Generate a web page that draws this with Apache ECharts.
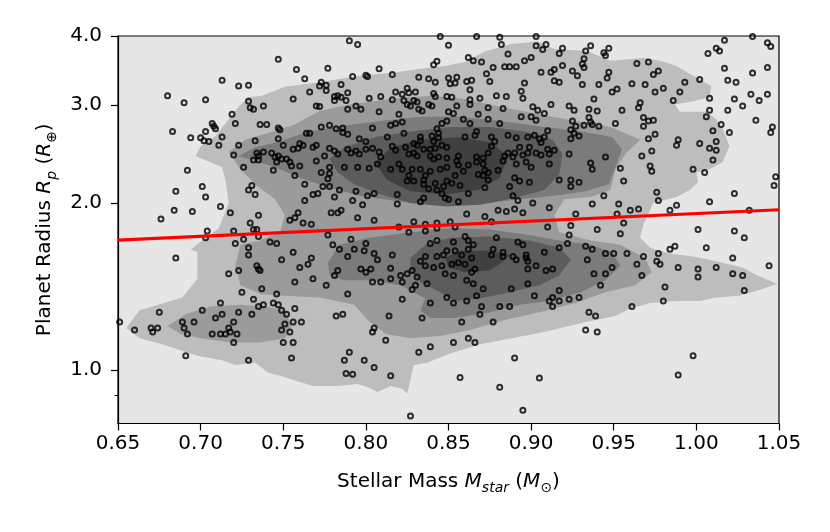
<!DOCTYPE html>
<html>
<head>
<meta charset="utf-8">
<script src="https://cdn.jsdelivr.net/npm/echarts@6.0.0/dist/echarts.min.js"></script>
<style>
  html, body { margin: 0; padding: 0; background: #fff; }
  #container { width: 830px; height: 532px; }
</style>
</head>
<body>
<div id="container"></div>
<script>
// planets: [stellar mass, planet radius]
var planets = [
[0.747,3.63],[0.713,3.33],[0.723,3.25],[0.729,3.26],[0.680,3.12],[0.690,3.03],[0.703,3.07],[0.729,3.05],[0.730,2.97],[0.732,2.95],
[0.738,2.99],[0.719,2.89],[0.721,2.78],[0.736,2.77],[0.740,2.77],[0.707,2.78],[0.708,2.75],[0.709,2.72],[0.747,2.73],[0.748,2.71],
[0.683,2.69],[0.703,2.69],[0.694,2.62],[0.700,2.62],[0.702,2.59],[0.705,2.58],[0.713,2.63],[0.711,2.54],[0.723,2.54],[0.733,2.59],
[0.747,2.61],[0.750,2.54],[0.720,2.44],[0.734,2.46],[0.735,2.43],[0.738,2.47],[0.732,2.39],[0.735,2.39],[0.743,2.46],[0.745,2.42],
[0.747,2.43],[0.746,2.37],[0.749,2.40],[0.726,2.32],[0.744,2.29],[0.692,2.29],[0.731,2.15],[0.729,2.11],[0.733,2.07],[0.701,2.14],
[0.685,2.10],[0.703,2.05],[0.712,1.97],[0.718,1.92],[0.735,1.90],[0.684,1.94],[0.695,1.93],[0.676,1.87],[0.730,1.84],[0.732,1.79],
[0.734,1.79],[0.704,1.78],[0.703,1.73],[0.720,1.78],[0.721,1.69],[0.726,1.72],[0.735,1.74],[0.729,1.66],[0.729,1.61],[0.742,1.70],
[0.746,1.69],[0.749,1.58],[0.685,1.59],[0.717,1.49],[0.723,1.51],[0.734,1.54],[0.735,1.52],[0.736,1.51],[0.737,1.40],[0.725,1.38],
[0.732,1.34],[0.746,1.37],[0.735,1.30],[0.738,1.31],[0.744,1.32],[0.747,1.31],[0.749,1.28],[0.712,1.32],[0.701,1.28],[0.675,1.27],
[0.713,1.26],[0.709,1.24],[0.723,1.27],[0.731,1.26],[0.689,1.22],[0.690,1.19],[0.696,1.22],[0.720,1.22],[0.651,1.22],[0.660,1.18],
[0.670,1.19],[0.671,1.17],[0.674,1.19],[0.692,1.16],[0.707,1.16],[0.712,1.16],[0.715,1.16],[0.717,1.19],[0.718,1.17],[0.722,1.16],
[0.749,1.18],[0.751,1.21],[0.750,1.12],[0.720,1.12],[0.691,1.06],[0.729,1.04],[0.790,3.92],[0.795,3.86],[0.845,3.99],[0.850,3.85],
[0.758,3.48],[0.777,3.50],[0.808,3.49],[0.843,3.60],[0.841,3.55],[0.763,3.35],[0.792,3.38],[0.800,3.40],[0.801,3.38],[0.816,3.41],
[0.832,3.37],[0.838,3.35],[0.842,3.30],[0.850,3.36],[0.773,3.30],[0.772,3.25],[0.776,3.26],[0.776,3.19],[0.785,3.27],[0.766,3.17],
[0.789,3.16],[0.818,3.17],[0.825,3.22],[0.826,3.16],[0.830,3.17],[0.841,3.15],[0.842,3.11],[0.849,3.11],[0.756,3.08],[0.781,3.11],
[0.783,3.12],[0.785,3.10],[0.781,3.06],[0.788,3.06],[0.789,2.95],[0.802,3.09],[0.809,3.11],[0.816,3.07],[0.822,3.14],[0.823,3.06],
[0.825,3.01],[0.829,3.06],[0.831,3.04],[0.827,2.99],[0.832,2.95],[0.834,2.93],[0.838,3.01],[0.840,2.99],[0.770,2.99],[0.772,2.985],
[0.794,2.99],[0.797,2.95],[0.808,2.92],[0.820,2.89],[0.822,2.80],[0.815,2.76],[0.818,2.78],[0.846,2.78],[0.849,2.81],[0.843,2.72],
[0.844,2.67],[0.844,2.62],[0.773,2.74],[0.778,2.76],[0.782,2.72],[0.786,2.73],[0.786,2.68],[0.789,2.66],[0.804,2.73],[0.764,2.67],
[0.766,2.67],[0.813,2.63],[0.823,2.67],[0.833,2.63],[0.833,2.59],[0.840,2.64],[0.841,2.58],[0.796,2.61],[0.800,2.58],[0.846,2.54],
[0.760,2.56],[0.762,2.54],[0.759,2.51],[0.756,2.50],[0.768,2.52],[0.770,2.54],[0.778,2.51],[0.781,2.48],[0.789,2.50],[0.791,2.46],
[0.794,2.48],[0.796,2.45],[0.800,2.50],[0.804,2.51],[0.808,2.47],[0.809,2.42],[0.816,2.53],[0.818,2.49],[0.824,2.52],[0.829,2.56],
[0.831,2.54],[0.835,2.50],[0.839,2.50],[0.842,2.51],[0.849,2.52],[0.826,2.45],[0.829,2.46],[0.831,2.43],[0.839,2.43],[0.841,2.40],
[0.844,2.42],[0.849,2.41],[0.752,2.40],[0.754,2.37],[0.755,2.33],[0.770,2.38],[0.775,2.43],[0.783,2.45],[0.787,2.32],[0.795,2.32],
[0.807,2.35],[0.802,2.31],[0.815,2.30],[0.820,2.35],[0.822,2.30],[0.828,2.30],[0.826,2.24],[0.833,2.30],[0.836,2.24],[0.839,2.28],
[0.845,2.30],[0.849,2.32],[0.760,2.33],[0.773,2.27],[0.778,2.32],[0.778,2.26],[0.777,2.21],[0.757,2.24],[0.763,2.16],[0.774,2.14],
[0.778,2.14],[0.784,2.11],[0.768,2.07],[0.771,2.08],[0.794,2.10],[0.805,2.08],[0.819,2.07],[0.819,1.99],[0.825,2.19],[0.829,2.19],
[0.835,2.20],[0.835,2.16],[0.838,2.12],[0.842,2.17],[0.843,2.11],[0.847,2.14],[0.846,2.08],[0.849,2.19],[0.848,2.04],[0.833,2.01],
[0.835,2.04],[0.781,2.05],[0.763,2.02],[0.792,2.02],[0.798,1.985],[0.801,2.06],[0.779,1.92],[0.783,1.92],[0.785,1.94],[0.795,1.88],
[0.805,1.86],[0.759,1.92],[0.757,1.88],[0.754,1.86],[0.762,1.84],[0.767,1.83],[0.829,1.85],[0.836,1.83],[0.843,1.84],[0.843,1.80],
[0.820,1.81],[0.826,1.77],[0.836,1.78],[0.777,1.75],[0.791,1.72],[0.780,1.68],[0.784,1.65],[0.800,1.69],[0.793,1.65],[0.799,1.64],
[0.756,1.63],[0.805,1.62],[0.807,1.58],[0.816,1.61],[0.789,1.60],[0.767,1.59],[0.839,1.69],[0.843,1.71],[0.836,1.60],[0.843,1.60],
[0.847,1.61],[0.849,1.64],[0.833,1.57],[0.836,1.54],[0.841,1.53],[0.846,1.54],[0.848,1.49],[0.765,1.55],[0.760,1.53],[0.783,1.51],
[0.781,1.48],[0.797,1.52],[0.800,1.50],[0.803,1.52],[0.815,1.525],[0.768,1.46],[0.821,1.48],[0.825,1.49],[0.828,1.51],[0.831,1.47],
[0.815,1.46],[0.822,1.44],[0.804,1.44],[0.809,1.44],[0.757,1.44],[0.776,1.42],[0.837,1.43],[0.830,1.42],[0.828,1.395],[0.789,1.37],
[0.822,1.34],[0.839,1.32],[0.849,1.35],[0.757,1.29],[0.752,1.26],[0.782,1.25],[0.786,1.26],[0.814,1.25],[0.834,1.24],[0.756,1.22],
[0.761,1.22],[0.754,1.17],[0.805,1.19],[0.804,1.17],[0.812,1.13],[0.756,1.12],[0.755,1.05],[0.790,1.075],[0.787,1.04],[0.799,1.04],
[0.805,1.01],[0.788,0.985],[0.792,0.982],[0.815,0.975],[0.832,1.075],[0.839,1.10],[0.827,0.825],[0.867,3.99],[0.881,3.98],[0.903,3.99],
[0.882,3.86],[0.903,3.84],[0.907,3.78],[0.909,3.86],[0.917,3.72],[0.919,3.80],[0.933,3.76],[0.936,3.84],[0.932,3.64],[0.931,3.56],
[0.932,3.51],[0.944,3.73],[0.947,3.80],[0.945,3.69],[0.862,3.66],[0.865,3.61],[0.870,3.59],[0.886,3.71],[0.896,3.61],[0.900,3.66],
[0.877,3.51],[0.884,3.52],[0.887,3.52],[0.891,3.52],[0.919,3.54],[0.873,3.42],[0.906,3.44],[0.912,3.44],[0.914,3.48],[0.914,3.32],
[0.917,3.30],[0.925,3.46],[0.928,3.39],[0.947,3.44],[0.946,3.36],[0.941,3.27],[0.949,3.17],[0.896,3.29],[0.855,3.37],[0.851,3.28],
[0.854,3.29],[0.861,3.31],[0.864,3.33],[0.875,3.31],[0.894,3.18],[0.931,3.27],[0.852,3.10],[0.863,3.20],[0.863,3.07],[0.863,3.01],
[0.869,3.09],[0.879,3.12],[0.885,3.11],[0.895,3.09],[0.938,3.08],[0.855,2.99],[0.850,2.92],[0.853,2.90],[0.868,2.89],[0.874,2.97],
[0.883,2.96],[0.901,2.98],[0.904,2.94],[0.908,2.90],[0.900,2.86],[0.903,2.82],[0.912,3.01],[0.923,2.99],[0.926,2.94],[0.935,2.95],
[0.940,2.93],[0.935,2.85],[0.936,2.80],[0.932,2.76],[0.937,2.77],[0.894,2.86],[0.859,2.83],[0.863,2.78],[0.874,2.83],[0.881,2.78],
[0.925,2.81],[0.927,2.75],[0.941,2.75],[0.867,2.69],[0.866,2.65],[0.860,2.63],[0.876,2.63],[0.878,2.58],[0.886,2.65],[0.891,2.62],
[0.898,2.63],[0.902,2.65],[0.905,2.61],[0.908,2.63],[0.906,2.57],[0.910,2.70],[0.924,2.71],[0.926,2.67],[0.924,2.61],[0.929,2.64],
[0.876,2.53],[0.893,2.52],[0.899,2.52],[0.910,2.50],[0.911,2.45],[0.914,2.49],[0.903,2.46],[0.906,2.44],[0.886,2.46],[0.890,2.46],
[0.889,2.42],[0.884,2.43],[0.883,2.38],[0.895,2.44],[0.898,2.46],[0.874,2.46],[0.871,2.41],[0.867,2.42],[0.856,2.43],[0.855,2.38],
[0.856,2.34],[0.862,2.34],[0.867,2.37],[0.871,2.35],[0.872,2.29],[0.874,2.27],[0.871,2.24],[0.868,2.25],[0.874,2.20],[0.880,2.29],
[0.891,2.35],[0.897,2.37],[0.900,2.32],[0.911,2.35],[0.923,2.45],[0.945,2.42],[0.936,2.36],[0.937,2.30],[0.854,2.24],[0.852,2.17],
[0.859,2.28],[0.857,2.15],[0.862,2.08],[0.872,2.13],[0.890,2.22],[0.893,2.19],[0.899,2.18],[0.887,2.14],[0.917,2.20],[0.924,2.20],
[0.929,2.18],[0.924,2.14],[0.889,2.06],[0.892,2.02],[0.901,2.00],[0.885,1.93],[0.890,1.95],[0.895,1.92],[0.880,1.94],[0.861,1.91],
[0.850,2.03],[0.856,2.01],[0.911,1.96],[0.937,1.99],[0.944,2.06],[0.927,1.91],[0.872,1.89],[0.876,1.85],[0.851,1.85],[0.854,1.81],
[0.910,1.81],[0.924,1.82],[0.940,1.79],[0.879,1.73],[0.860,1.74],[0.862,1.71],[0.865,1.68],[0.853,1.70],[0.854,1.64],[0.858,1.61],
[0.862,1.65],[0.864,1.59],[0.852,1.55],[0.856,1.56],[0.860,1.55],[0.853,1.48],[0.864,1.50],[0.866,1.52],[0.861,1.45],[0.865,1.43],
[0.871,1.40],[0.877,1.65],[0.876,1.61],[0.883,1.63],[0.883,1.60],[0.892,1.70],[0.895,1.68],[0.889,1.60],[0.891,1.58],[0.897,1.61],
[0.897,1.59],[0.898,1.57],[0.898,1.52],[0.903,1.54],[0.908,1.63],[0.917,1.66],[0.922,1.69],[0.909,1.51],[0.913,1.52],[0.923,1.75],
[0.933,1.67],[0.937,1.65],[0.934,1.58],[0.945,1.62],[0.950,1.62],[0.938,1.49],[0.945,1.49],[0.949,1.53],[0.942,1.42],[0.888,1.40],
[0.898,1.43],[0.917,1.39],[0.853,1.32],[0.861,1.33],[0.867,1.36],[0.902,1.36],[0.911,1.33],[0.913,1.35],[0.913,1.30],[0.917,1.33],
[0.923,1.34],[0.929,1.35],[0.870,1.30],[0.869,1.26],[0.881,1.30],[0.887,1.30],[0.858,1.22],[0.877,1.22],[0.935,1.27],[0.939,1.25],
[0.933,1.18],[0.940,1.17],[0.853,1.12],[0.862,1.14],[0.866,1.12],[0.890,1.05],[0.857,0.968],[0.881,0.930],[0.905,0.966],[0.895,0.845],
[1.034,3.99],[1.017,3.93],[1.043,3.89],[1.045,3.83],[1.012,3.80],[1.014,3.76],[1.007,3.72],[0.964,3.57],[0.971,3.59],[1.043,3.51],
[1.017,3.50],[1.034,3.43],[0.974,3.41],[0.977,3.46],[1.002,3.34],[1.019,3.33],[1.024,3.30],[0.993,3.30],[0.961,3.28],[0.969,3.27],
[0.980,3.22],[0.990,3.17],[0.975,3.17],[0.952,3.21],[1.008,3.09],[1.023,3.08],[1.033,3.14],[1.038,3.06],[1.043,3.14],[0.986,3.06],
[0.966,3.03],[0.965,2.97],[0.955,2.94],[1.028,2.99],[1.019,2.94],[1.008,2.94],[1.006,2.86],[1.036,2.82],[0.951,2.78],[0.968,2.85],
[0.971,2.81],[0.974,2.82],[0.968,2.75],[0.975,2.66],[0.971,2.61],[1.015,2.77],[1.010,2.70],[1.020,2.68],[1.046,2.74],[1.045,2.68],
[0.989,2.60],[0.988,2.54],[1.002,2.56],[1.012,2.58],[1.008,2.51],[1.012,2.49],[0.973,2.48],[0.967,2.43],[1.010,2.39],[0.954,2.31],
[0.956,2.19],[0.972,2.33],[0.973,2.28],[0.998,2.30],[1.005,2.27],[1.048,2.23],[1.047,2.15],[0.976,2.09],[0.977,2.02],[1.023,2.08],
[1.008,2.01],[0.953,1.99],[0.960,1.94],[0.965,1.95],[0.984,1.94],[0.988,1.98],[0.952,1.91],[1.032,1.94],[0.956,1.84],[0.954,1.76],
[1.001,1.79],[1.023,1.78],[1.029,1.73],[1.006,1.66],[0.984,1.65],[0.987,1.67],[0.958,1.62],[0.968,1.60],[0.964,1.55],[0.977,1.62],
[0.976,1.57],[0.978,1.55],[0.989,1.53],[1.001,1.52],[1.001,1.47],[1.012,1.53],[1.022,1.59],[1.022,1.49],[1.028,1.48],[1.044,1.54],
[0.967,1.48],[0.981,1.41],[0.980,1.33],[0.961,1.30],[1.029,1.39],[0.998,1.06],[0.989,0.979]
];

// density contours, outermost level first
var contourLevel1 = [
  [[0.655,1.19],[0.663,1.28],[0.689,1.35],[0.698,1.46],[0.698,1.63],[0.694,1.65],[0.711,1.80],[0.717,2.00],[0.715,2.20],[0.713,2.32],
   [0.697,2.43],[0.700,2.53],[0.709,2.64],[0.717,2.83],[0.723,2.98],[0.729,3.10],[0.737,3.12],[0.751,3.24],[0.772,3.30],[0.796,3.39],
   [0.819,3.44],[0.833,3.49],[0.848,3.53],[0.860,3.59],[0.872,3.75],[0.888,3.87],[0.904,3.91],[0.914,3.79],[0.934,3.76],[0.948,3.61],
   [0.968,3.65],[0.978,3.61],[0.988,3.53],[0.998,3.39],[1.009,3.25],[1.008,3.10],[0.998,3.05],[0.987,3.01],[0.990,2.92],[1.006,2.92],
   [1.012,2.83],[1.016,2.72],[1.020,2.53],[1.016,2.37],[1.008,2.30],[1.000,2.27],[1.001,2.18],[0.996,2.11],[0.988,2.05],[0.974,2.00],
   [0.968,1.83],[0.966,1.73],[0.972,1.66],[0.984,1.62],[0.998,1.60],[1.008,1.58],[1.028,1.53],[1.037,1.48],[1.049,1.43],[1.037,1.39],
   [1.026,1.36],[1.012,1.35],[1.002,1.33],[0.988,1.33],[0.972,1.32],[0.960,1.29],[0.951,1.25],[0.933,1.22],[0.908,1.17],[0.888,1.14],
   [0.868,1.11],[0.851,1.07],[0.837,1.03],[0.829,1.02],[0.825,0.905],[0.822,0.924],[0.815,0.935],[0.807,0.912],[0.802,0.928],[0.795,0.943],
   [0.783,0.935],[0.768,0.935],[0.748,0.975],[0.741,0.988],[0.733,1.03],[0.721,1.02],[0.713,1.04],[0.698,1.06],[0.678,1.11],[0.663,1.14]]
];
var contourLevel2 = [
  [[0.717,2.47],[0.727,2.60],[0.742,2.68],[0.757,2.77],[0.772,2.93],[0.790,3.01],[0.815,3.08],[0.839,3.12],[0.860,3.08],[0.881,2.98],
   [0.905,2.89],[0.927,2.81],[0.948,2.74],[0.966,2.60],[0.957,2.45],[0.951,2.30],[0.948,2.11],[0.936,2.05],[0.920,2.03],[0.914,1.90],
   [0.917,1.77],[0.936,1.71],[0.954,1.68],[0.969,1.59],[0.973,1.50],[0.963,1.42],[0.945,1.38],[0.927,1.32],[0.905,1.27],[0.884,1.23],
   [0.863,1.18],[0.845,1.15],[0.827,1.14],[0.812,1.16],[0.801,1.23],[0.793,1.31],[0.772,1.35],[0.751,1.36],[0.736,1.37],[0.724,1.42],
   [0.721,1.54],[0.724,1.68],[0.736,1.71],[0.748,1.77],[0.751,1.90],[0.745,2.03],[0.733,2.16],[0.724,2.30]],
  [[0.680,1.20],[0.691,1.26],[0.706,1.30],[0.724,1.31],[0.739,1.30],[0.751,1.28],[0.755,1.20],[0.751,1.14],[0.736,1.12],[0.718,1.12],
   [0.700,1.14],[0.688,1.16]]
];
var contourLevel3 = [
  [[0.723,2.43],[0.733,2.52],[0.748,2.58],[0.763,2.68],[0.784,2.75],[0.809,2.81],[0.833,2.86],[0.857,2.86],[0.881,2.81],[0.905,2.75],
   [0.930,2.69],[0.949,2.63],[0.955,2.50],[0.951,2.32],[0.947,2.16],[0.933,2.10],[0.914,2.06],[0.893,2.03],[0.869,1.99],[0.845,1.985],
   [0.821,2.01],[0.796,2.06],[0.778,2.13],[0.760,2.22],[0.745,2.32],[0.733,2.38]],
  [[0.777,1.56],[0.784,1.68],[0.802,1.73],[0.827,1.77],[0.851,1.80],[0.875,1.79],[0.899,1.75],[0.917,1.71],[0.936,1.68],[0.949,1.63],
   [0.954,1.54],[0.945,1.45],[0.930,1.38],[0.911,1.33],[0.893,1.31],[0.875,1.27],[0.854,1.24],[0.839,1.24],[0.833,1.28],[0.836,1.345],
   [0.821,1.42],[0.802,1.45],[0.787,1.45],[0.778,1.48]]
];
var contourLevel4 = [
  [[0.778,2.40],[0.787,2.52],[0.806,2.63],[0.827,2.69],[0.851,2.74],[0.875,2.74],[0.896,2.69],[0.913,2.60],[0.919,2.45],[0.917,2.25],
   [0.908,2.11],[0.890,2.04],[0.869,1.985],[0.848,1.97],[0.827,2.00],[0.809,2.07],[0.793,2.16],[0.783,2.27]],
  [[0.827,1.59],[0.836,1.68],[0.851,1.73],[0.875,1.74],[0.899,1.71],[0.917,1.66],[0.924,1.58],[0.917,1.48],[0.905,1.42],[0.887,1.38],
   [0.869,1.345],[0.854,1.33],[0.845,1.38],[0.833,1.44],[0.827,1.51]]
];
var contourLevel5 = [
  [[0.806,2.35],[0.815,2.52],[0.833,2.60],[0.857,2.63],[0.876,2.57],[0.886,2.42],[0.881,2.22],[0.868,2.11],[0.848,2.07],[0.827,2.10],
   [0.813,2.20]],
  [[0.848,1.59],[0.857,1.64],[0.875,1.64],[0.887,1.61],[0.882,1.56],[0.875,1.51],[0.860,1.50],[0.850,1.53]]
];
var levelColors = ['#bdbdbd', '#9b9b9b', '#7b7b7b', '#5c5c5c', '#404040'];

// fitted relation
var fitLine = [[0.65, 1.714], [1.05, 1.944]];

var yTickValues = [1, 2, 3, 4];
var yMinorTicks = [0.9];

var fontName = 'DejaVu Sans';

function contourSeries(polys, color, z) {
  return {
    type: 'custom',
    coordinateSystem: 'cartesian2d',
    silent: true,
    clip: true,
    z: z,
    data: polys.map(function (p) { return p[0]; }),
    renderItem: function (params, api) {
      var poly = polys[params.dataIndex];
      return {
        type: 'polygon',
        shape: { points: poly.map(function (v) { return api.coord(v); }) },
        style: { fill: color }
      };
    }
  };
}

var dom = document.getElementById('container');
var myChart = echarts.init(dom);

var contours = [contourLevel1, contourLevel2, contourLevel3, contourLevel4, contourLevel5];
var series = contours.map(function (lv, i) { return contourSeries(lv, levelColors[i], 1 + i * 0.1); });

// open circles for each planet
series.push({
  type: 'scatter',
  data: planets,
  symbol: 'circle',
  symbolSize: 5,
  itemStyle: { color: 'rgba(0,0,0,0)', borderColor: '#000', borderWidth: 2 },
  z: 5,
  silent: true
});
series.push({
  type: 'line',
  data: fitLine,
  showSymbol: false,
  symbol: 'none',
  lineStyle: { color: '#ff0000', width: 3.2 },
  z: 6,
  silent: true
});

var richName = {
  it: { fontStyle: 'italic', fontSize: 20, fontFamily: fontName, color: '#000', lineHeight: 28 },
  sub: { fontStyle: 'italic', fontSize: 14, fontFamily: fontName, color: '#000', verticalAlign: 'bottom', lineHeight: 14 },
  subr: { fontSize: 14, fontFamily: fontName, color: '#000', verticalAlign: 'bottom', lineHeight: 14 }
};

myChart.setOption({
  animation: false,
  backgroundColor: '#fff',
  grid: {
    left: 118, right: 51, top: 36, bottom: 108.5,
    show: true,
    backgroundColor: '#e6e6e6',
    borderColor: '#000',
    borderWidth: 1.2,
    outerBoundsMode: 'none'
  },
  xAxis: {
    type: 'value',
    min: 0.65,
    max: 1.05,
    interval: 0.05,
    name: 'Stellar Mass {it|M}{sub|star} ({it|M}{subr|⊙})',
    nameLocation: 'middle',
    nameGap: 44,
    nameTextStyle: { fontSize: 20, fontFamily: fontName, color: '#000', lineHeight: 28, rich: richName },
    axisLine: { show: true, lineStyle: { color: '#000', width: 1.2 } },
    axisTick: { show: true, length: 7, lineStyle: { color: '#000', width: 1.2 } },
    axisLabel: {
      fontSize: 20, fontFamily: fontName, color: '#000', margin: 10,
      showMinLabel: true, showMaxLabel: true,
      formatter: function (v) { return v.toFixed(2); }
    },
    splitLine: { show: false }
  },
  yAxis: [{
    type: 'log',
    logBase: 10,
    min: 0.8,
    max: 4,
    name: 'Planet Radius {it|R}{sub|p} ({it|R}{subr|⊕})',
    nameLocation: 'middle',
    nameGap: 58,
    nameRotate: 90,
    nameTextStyle: { fontSize: 20, fontFamily: fontName, color: '#000', lineHeight: 28, rich: richName },
    axisLine: { show: true, lineStyle: { color: '#000', width: 1.2 } },
    axisTick: { show: true, length: 7, customValues: yTickValues, lineStyle: { color: '#000', width: 1.2 } },
    axisLabel: {
      fontSize: 20, fontFamily: fontName, color: '#000', margin: 16,
      customValues: yTickValues,
      formatter: function (v) { return Number(v).toFixed(1); }
    },
    splitLine: { show: false },
    minorTick: { show: false }
  }, {
    type: 'log',
    logBase: 10,
    min: 0.8,
    max: 4,
    position: 'left',
    axisLine: { show: false },
    axisTick: { show: true, length: 3.5, customValues: yMinorTicks, lineStyle: { color: '#000', width: 1 } },
    axisLabel: { show: false },
    splitLine: { show: false }
  }],
  series: series
});
</script>
</body>
</html>
